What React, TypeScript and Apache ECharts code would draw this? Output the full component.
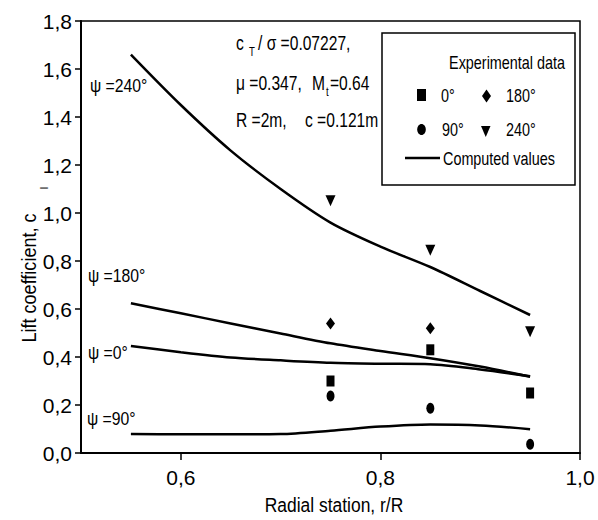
import React, { useEffect, useRef } from "react";
import * as echarts from "echarts";

// ---- data ----
const curveX = [0.55, 0.6, 0.65, 0.7, 0.75, 0.8, 0.85, 0.9, 0.95];
const psi240 = [1.66, 1.45, 1.26, 1.1, 0.96, 0.86, 0.775, 0.675, 0.575];
const psi180 = [0.624, 0.582, 0.54, 0.498, 0.457, 0.425, 0.395, 0.36, 0.318];
const psi0 = [0.446, 0.42, 0.398, 0.386, 0.376, 0.372, 0.37, 0.348, 0.32];
const psi90 = [0.079, 0.078, 0.078, 0.079, 0.093, 0.11, 0.119, 0.115, 0.099];

const stations = [0.75, 0.85, 0.95];
const exp0 = [0.3, 0.43, 0.25];
const exp90 = [0.2375, 0.186, 0.036];
const exp180 = [0.54, 0.52];
const exp240 = [1.051, 0.845, 0.505];

const xTicks = [0.6, 0.8, 1.0];
const curveLabels = ["ψ =240°", "ψ =180°", "ψ =0°", "ψ =90°"];
const legendLabels = ["0°", "90°", "180°", "240°"];

const FONT = "'Liberation Sans', Arial, sans-serif";
const TRI_DOWN = "path://M0,0L10,0L5,11Z";

function txt(
  x: number,
  y: number,
  text: string,
  size: number,
  sx = 1,
  align = "left",
  extra: any = {}
) {
  return {
    type: "text",
    x,
    y,
    z: 100,
    scaleX: sx,
    ...extra,
    style: {
      text,
      fontSize: size,
      fontFamily: FONT,
      fill: "#000",
      align,
      textAlign: align,
      verticalAlign: "middle",
      textVerticalAlign: "middle",
    },
  };
}

const pairs = (xs: number[], ys: number[]) => ys.map((y, i) => [xs[i], y]);
const fmt = (v: number) => v.toFixed(1).replace(".", ",");

export default function App() {
  const ref = useRef<HTMLDivElement>(null);
  useEffect(() => {
    if (!ref.current) return;
    const chart = echarts.init(ref.current, null, { renderer: "svg" });

    const lineSeries = [psi240, psi180, psi0, psi90].map((arr, k) => ({
      name: curveLabels[k],
      type: "line",
      data: pairs(curveX, arr),
      smooth: 0.3,
      symbol: "none",
      lineStyle: { color: "#000", width: 2.5 },
      z: 3,
    }));

    const scatter = (name: string, data: number[][], symbol: string, size: number[]) => ({
      name,
      type: "scatter",
      data,
      symbol,
      symbolSize: size,
      itemStyle: { color: "#000", opacity: 1 },
      z: 4,
    });

    const A = 19.5; // annotation font size
    const AS = 0.8; // annotation horizontal scale
    const L = 18; // legend font size
    const LS = 0.8;

    const graphic: any[] = [
      // annotations
      txt(236, 43, "c", A, AS),
      txt(249, 52, "T", 12, AS),
      txt(258, 43, "/ σ =0.07227,", A, AS),
      txt(236, 83, "μ =0.347,", A, AS),
      txt(312, 83, "M", A, AS),
      txt(326, 92, "t", 12, AS),
      txt(330, 83, "=0.64", A, AS),
      txt(236, 120, "R =2m,", A, AS),
      txt(305, 120, "c =0.121m", A, AS),
      // curve labels
      txt(90, 85, curveLabels[0], 19, 0.83),
      txt(88, 275, curveLabels[1], 19, 0.83),
      txt(88, 352, curveLabels[2], 19, 0.83),
      txt(87, 418, curveLabels[3], 19, 0.83),
      // axis titles
      txt(28, 278, "Lift coefficient, c", 21, 0.86, "center", { rotation: Math.PI / 2 }),
      txt(44, 188, "l", 11, 1, "center", { rotation: Math.PI / 2 }),
      txt(334, 505, "Radial station, r/R", 21, 0.83, "center"),
      // legend box
      {
        type: "rect",
        z: 90,
        shape: { x: 382, y: 33, width: 193, height: 152 },
        style: { fill: "#fff", stroke: "#000", lineWidth: 1.5 },
      },
      txt(565, 62, "Experimental data", L, LS, "right"),
      { type: "rect", z: 100, shape: { x: 417, y: 89, width: 9, height: 12 }, style: { fill: "#000" } },
      txt(441, 95, legendLabels[0], L, LS),
      {
        type: "polygon",
        z: 100,
        shape: { points: [[486.5, 89.5], [491, 96], [486.5, 102.5], [482, 96]] },
        style: { fill: "#000" },
      },
      txt(506, 95, legendLabels[2], L, LS),
      { type: "ellipse", z: 100, shape: { cx: 421.5, cy: 129.5, rx: 4.3, ry: 5.5 }, style: { fill: "#000" } },
      txt(442, 129, legendLabels[1], L, LS),
      {
        type: "polygon",
        z: 100,
        shape: { points: [[481, 126], [490.5, 126], [485.75, 137]] },
        style: { fill: "#000" },
      },
      txt(506, 129, legendLabels[3], L, LS),
      {
        type: "line",
        z: 100,
        shape: { x1: 405, y1: 158, x2: 440, y2: 158 },
        style: { stroke: "#000", lineWidth: 2.5 },
      },
      txt(443, 158, "Computed values", L, LS),
    ];

    chart.setOption({
      animation: false,
      backgroundColor: "#fff",
      grid: {
        left: 81,
        top: 21,
        right: 18,
        bottom: 67,
        show: true,
        borderColor: "#000",
        borderWidth: 1.5,
      },
      xAxis: {
        type: "value",
        min: 0.5,
        max: 1.0,
        axisLine: { lineStyle: { color: "#000", width: 2 } },
        axisTick: { length: 7, customValues: xTicks, lineStyle: { color: "#000", width: 1.5 } },
        axisLabel: {
          customValues: xTicks,
          margin: 14,
          fontSize: 21,
          fontFamily: FONT,
          color: "#000",
          formatter: (v: number) => fmt(v),
        },
        splitLine: { show: false },
      },
      yAxis: {
        type: "value",
        min: 0,
        max: 1.8,
        interval: 0.2,
        axisLine: { show: true, lineStyle: { color: "#000", width: 2 } },
        axisTick: { show: true, length: 6, lineStyle: { color: "#000", width: 1.5 } },
        axisLabel: {
          margin: 9,
          fontSize: 21,
          fontFamily: FONT,
          color: "#000",
          formatter: (v: number) => fmt(v),
        },
        splitLine: { show: false },
      },
      series: [
        ...lineSeries,
        scatter(legendLabels[0], pairs(stations, exp0), "rect", [8, 11]),
        scatter(legendLabels[1], pairs(stations, exp90), "circle", [8, 11]),
        scatter(legendLabels[2], pairs(stations, exp180), "diamond", [9, 12]),
        scatter(legendLabels[3], pairs(stations, exp240), TRI_DOWN, [10, 11]),
      ],
      graphic,
    });
    return () => chart.dispose();
  }, []);
  return (
    <div
      ref={ref}
      style={{ position: "absolute", left: 0, top: 0, width: 598, height: 520, background: "#fff" }}
    />
  );
}
